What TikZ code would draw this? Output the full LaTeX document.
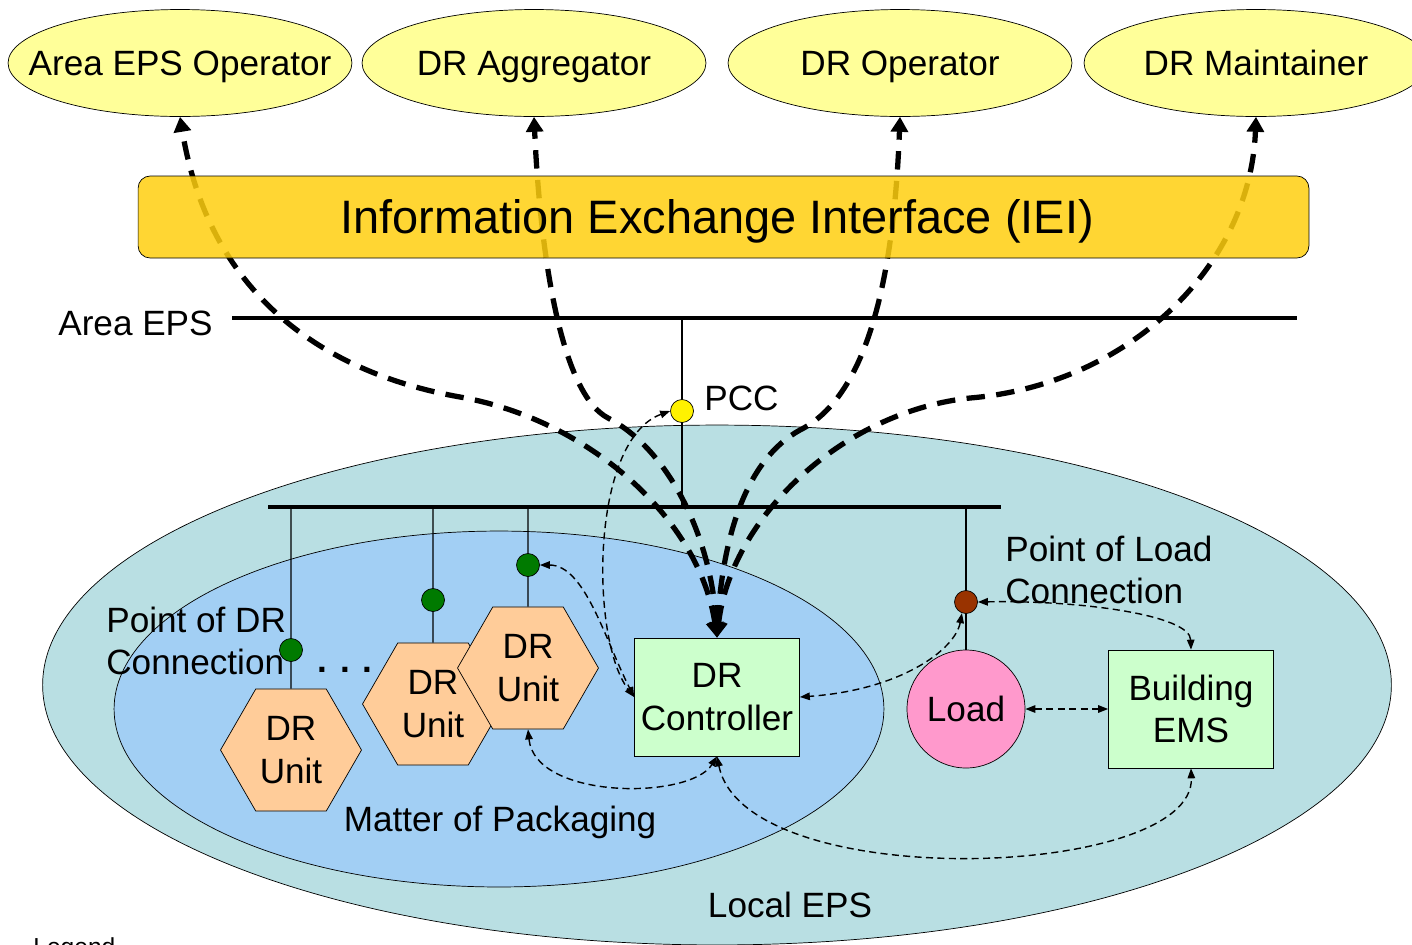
\documentclass[tikz,border=0pt]{standalone}
\usepackage{fontspec}
\setmainfont{Liberation Sans}
\usetikzlibrary{shapes.geometric, arrows.meta, positioning}
\definecolor{actorfill}{HTML}{FFFF99}
\definecolor{ieifill}{HTML}{FFCF0F}
\definecolor{localfill}{HTML}{B9DFE3}
\definecolor{packfill}{HTML}{A2CFF4}
\definecolor{unitfill}{HTML}{FFCC99}
\definecolor{boxfill}{HTML}{CCFFCC}
\definecolor{loadfill}{HTML}{FF99CC}
\definecolor{drgreen}{HTML}{007A00}
\definecolor{ldbrown}{HTML}{993300}

\begin{document}
\begin{tikzpicture}[x=0.02cm, y=-0.02cm,
    every node/.style={font=\fontsize{20}{24}\selectfont},
    lbl/.style={inner sep=0pt},
    capline/.style={inner sep=0pt, text height=14.3pt, text depth=0pt},
    actor/.style={ellipse, draw, fill=actorfill, minimum width=6.88cm, minimum height=2.14cm, inner sep=0pt},
    box/.style={rectangle, draw, fill=boxfill, minimum width=3.3cm, minimum height=2.36cm, align=center, inner sep=0pt},
    unit/.style={regular polygon, regular polygon sides=6, draw, fill=unitfill, minimum size=2.82cm, inner sep=0pt, align=center},
    dot/.style={circle, draw, inner sep=0pt, minimum size=0.46cm},
    bus/.style={line width=2pt},
    tap/.style={line width=0.7pt},
    link/.style={dash pattern=on 4pt off 2.5pt, line width=0.8pt, {Triangle[length=0.2cm,width=0.15cm]}-{Triangle[length=0.2cm,width=0.15cm]}},
    flow/.style={dash pattern=on 10.5pt off 6.5pt, line width=3pt, {Triangle[length=0.3cm,width=0.34cm]}-{Triangle[length=0.3cm,width=0.34cm]}}]
    \useasboundingbox (0,0) rectangle (1412,944);

    % local side
    \node[ellipse, draw, fill=localfill, minimum width=26.98cm, minimum height=10.4cm] (local) at (717,685) {};
    \node[ellipse, draw, fill=packfill, minimum width=15.4cm, minimum height=7.12cm] (pack) at (499,709) {};

    % buses
    \draw[bus] (232,318) -- (1297,318);
    \draw[bus] (268,507) -- (1001,507);
    \coordinate (pa) at (682,318);
    \coordinate (pb) at (682,507);
    \coordinate (t1) at (291,507);
    \coordinate (t2) at (433,507);
    \coordinate (t3) at (528,507);
    \coordinate (t4) at (966,507);

    \node[unit] (hex1) at (291,750) {DR\\Unit};
    \node[unit] (hex2) at (433,704) {DR\\Unit};
    \node[unit] (hex3) at (528,668) {DR\\Unit};
    \node[box] (ctrl) at (717,697) {DR\\Controller};
    \node[box] (ems) at (1191,709) {Building\\EMS};
    \node[circle, draw, fill=loadfill, minimum size=2.36cm, inner sep=0pt] (load) at (966,709) {Load};

    \draw[tap] (pa) -- (pb);
    \draw[tap] (t1) -- (hex1.north);
    \draw[tap] (t2) -- (hex2.north);
    \draw[tap] (t3) -- (hex3.north);
    \draw[tap] (t4) -- (load.north);
    \node[dot, fill=yellow] (pcc) at (682,411) {};
    \node[dot, fill=drgreen] (cp1) at (291,650) {};
    \node[dot, fill=drgreen] (cp2) at (433,600) {};
    \node[dot, fill=drgreen] (cp3) at (528,565) {};
    \node[dot, fill=ldbrown] (ld) at (966,602) {};

    % actors
    \node[actor, label={[capline]center:Area EPS Operator}] (aeo) at (180,63) {};
    \node[actor, label={[capline]center:DR Aggregator}] (agg) at (534,63) {};
    \node[actor, label={[capline]center:DR Operator}] (opr) at (900,63) {};
    \node[actor, label={[capline]center:DR Maintainer}] (mnt) at (1256,63) {};

    \draw[flow] (ctrl.north) .. controls (700,520) and (590,420) .. (460,397) .. controls (330,374) and (210,300) .. (aeo.south);
    \draw[flow] (ctrl.north) .. controls (712,540) and (670,450) .. (608,418) .. controls (560,393) and (540,250) .. (agg.south);
    \draw[flow] (ctrl.north) .. controls (722,540) and (745,460) .. (800,430) .. controls (860,400) and (893,300) .. (opr.south);
    \draw[flow] (ctrl.north) .. controls (730,520) and (840,412) .. (970,398) .. controls (1125,385) and (1250,270) .. (mnt.south);

    \node[draw, rounded corners=0.24cm, fill=ieifill, fill opacity=0.85, minimum width=23.42cm, minimum height=1.64cm,
          label={[capline, text height=19.1pt, xshift=-0.13cm, font=\fontsize{26.7}{32}\selectfont]center:Information Exchange Interface (IEI)}] (iei) at (723.5,217) {};

    % message paths
    \draw[link] (pcc.west) .. controls (590,440) and (590,640) .. (ctrl.west);
    \draw[link] (cp3.east) .. controls (585,565) and (605,640) .. (ctrl.west);
    \draw[link] (ld.250) .. controls (955,650) and (900,690) .. (ctrl.east);
    \draw[link] (ld.east) .. controls (1080,600) and (1190,615) .. (ems.north);
    \draw[link] (load.east) -- (ems.west);
    \draw[link] (hex3.south) .. controls (535,800) and (690,800) .. (ctrl.south);
    \draw[link] (ctrl.south) .. controls (745,895) and (1195,880) .. (ems.south);

    % labels
    \node[lbl, anchor=east] (arealbl) at (213,323) {Area EPS};
    \node[lbl, anchor=west] (pcclbl) at (704,398) {PCC};
    \node[lbl, anchor=west, align=left] (pdrc) at (106,641) {Point of DR\\Connection};
    \node[lbl, anchor=west, align=left] (plc) at (1005,570) {Point of Load\\Connection};
    \node[lbl] (more) at (345,670) {\textbf{. . .}};
    \node[lbl] (pkg) at (500,822) {Matter of Packaging};
    \node[lbl] (leps) at (790,905) {Local EPS};
    \node[lbl, anchor=north west, font=\fontsize{14}{17}\selectfont] (legend) at (33,937) {Legend};
\end{tikzpicture}
\end{document}
